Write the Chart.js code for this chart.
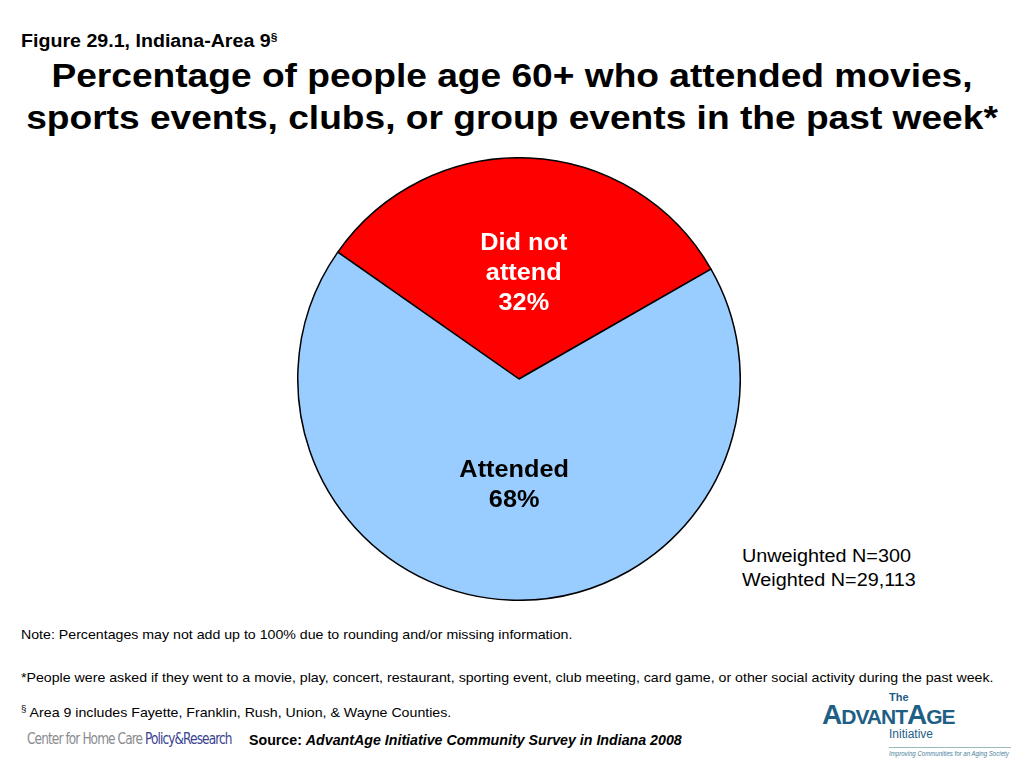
<!DOCTYPE html>
<html>
<head>
<meta charset="utf-8">
<script src="https://cdn.jsdelivr.net/npm/chart.js@4"></script>
<style>
  body { margin: 0; width: 1024px; height: 768px; background: #fff; font-family: "Liberation Sans", Arial, sans-serif; position: relative; overflow: hidden; }
  .abs { position: absolute; white-space: nowrap; }
  .sx { transform: scaleX(1.09); transform-origin: 0 0; }
  #fig { left: 21px; top: 31px; font-size: 18px; font-weight: bold; }
  #fig sup { font-size: 11px; vertical-align: 6px; }
  #title { left: 0; width: 1024px; top: 55px; text-align: center; font-size: 33px; font-weight: bold; line-height: 42px; transform: scaleX(1.125); transform-origin: 512px 0; }
  #chartBox { position: absolute; left: 297px; top: 157px; width: 444px; height: 444px; }
  #nInfo { left: 742px; top: 544px; font-size: 18px; line-height: 24px; transform: scaleX(1.1); }
  .note { left: 21px; font-size: 13px; }
  #src { left: 249px; top: 732px; font-size: 14px; font-weight: bold; transform: scaleX(1.015); }
  #cfh { left: 27px; top: 730px; font-family: "DejaVu Sans Condensed", "Liberation Sans Narrow", sans-serif; font-size: 15px; letter-spacing: -1px; color: #8a8c90; transform: scaleX(0.9); transform-origin: 0 0; }
  #cfh span { color: #3a3f8f; }
  #adv { left: 822px; top: 691px; width: 200px; height: 70px; color: #1f5f86; }
</style>
</head>
<body>
<div class="abs sx" id="fig">Figure 29.1, Indiana-Area 9<sup>§</sup></div>
<div class="abs" id="title">Percentage of people age 60+ who attended movies,<br>sports events, clubs, or group events in the past week*</div>
<div id="chartBox"><canvas id="chart"></canvas></div>
<div class="abs" id="nInfo" style="transform-origin:0 0;">Unweighted N=300<br>Weighted N=29,113</div>
<div class="abs note sx" style="top:627px;">Note: Percentages may not add up to 100% due to rounding and/or missing information.</div>
<div class="abs note sx" style="top:670px;">*People were asked if they went to a movie, play, concert, restaurant, sporting event, club meeting, card game, or other social activity during the past week.</div>
<div class="abs note sx" style="top:704px;"><sup style="font-size:9px;">§</sup> Area 9 includes Fayette, Franklin, Rush, Union, &amp; Wayne Counties.</div>
<div class="abs" id="cfh">Center for Home Care <span>Policy&amp;Research</span></div>
<div class="abs" id="src" style="transform-origin:0 0;">Source: <i>AdvantAge Initiative Community Survey in Indiana 2008</i></div>
<div class="abs" id="adv">
  <div style="position:absolute;left:67px;top:0;font-size:11px;font-weight:bold;">The</div>
  <div style="position:absolute;left:0;top:8px;font-size:28px;font-weight:bold;letter-spacing:-1px;">A<span style="font-size:21px;">DVANT</span>A<span style="font-size:21px;">GE</span></div>
  <div style="position:absolute;left:67px;top:36px;font-size:12px;">Initiative</div>
  <div style="position:absolute;left:67px;top:56px;width:122px;border-top:1px solid #9bb;"></div>
  <div style="position:absolute;left:67px;top:58px;font-size:8px;font-style:italic;color:#4a7fa0;transform:scaleX(0.76);transform-origin:0 0;">Improving Communities for an Aging Society</div>
</div>
<script>
var categories = ['Did not attend', 'Attended'];
var percents = [32, 68];
var sliceColors = ['#ff0000', '#99ccff'];

// labels drawn inside each slice
var sliceLabels = {
    id: 'sliceLabels',
    afterDatasetsDraw: function (chart) {
        var ctx = chart.ctx;
        var lines = [['Did not', 'attend', percents[0] + '%'], ['Attended', percents[1] + '%']];
        chart.getDatasetMeta(0).data.forEach(function (arc, i) {
            var p = arc.getProps(['x', 'y', 'startAngle', 'endAngle', 'outerRadius']);
            var mid = (p.startAngle + p.endAngle) / 2;
            var r = p.outerRadius * 0.48;
            var cx = p.x + Math.cos(mid) * r;
            var cy = p.y + Math.sin(mid) * r;
            var txt = lines[i];
            ctx.save();
            ctx.fillStyle = i === 0 ? '#ffffff' : '#000000';
            ctx.font = 'bold 23px "Liberation Sans", Arial, sans-serif';
            ctx.textAlign = 'center';
            ctx.textBaseline = 'middle';
            ctx.translate(cx, cy);
            ctx.scale(1.1, 1);
            var lh = 30;
            txt.forEach(function (t, k) {
                ctx.fillText(t, 0, (k - (txt.length - 1) / 2) * lh + 1);
            });
            ctx.restore();
        });
    }
};

new Chart(document.getElementById('chart'), {
    type: 'pie',
    data: {
        labels: categories,
        datasets: [{
            data: percents,
            backgroundColor: sliceColors,
            borderColor: '#000000',
            borderWidth: 1.5
        }]
    },
    options: {
        responsive: true,
        maintainAspectRatio: false,
        animation: false,
        rotation: -55,
        layout: { padding: 0 },
        plugins: {
            legend: { display: false },
            tooltip: { enabled: false }
        }
    },
    plugins: [sliceLabels]
});
</script>
</body>
</html>
